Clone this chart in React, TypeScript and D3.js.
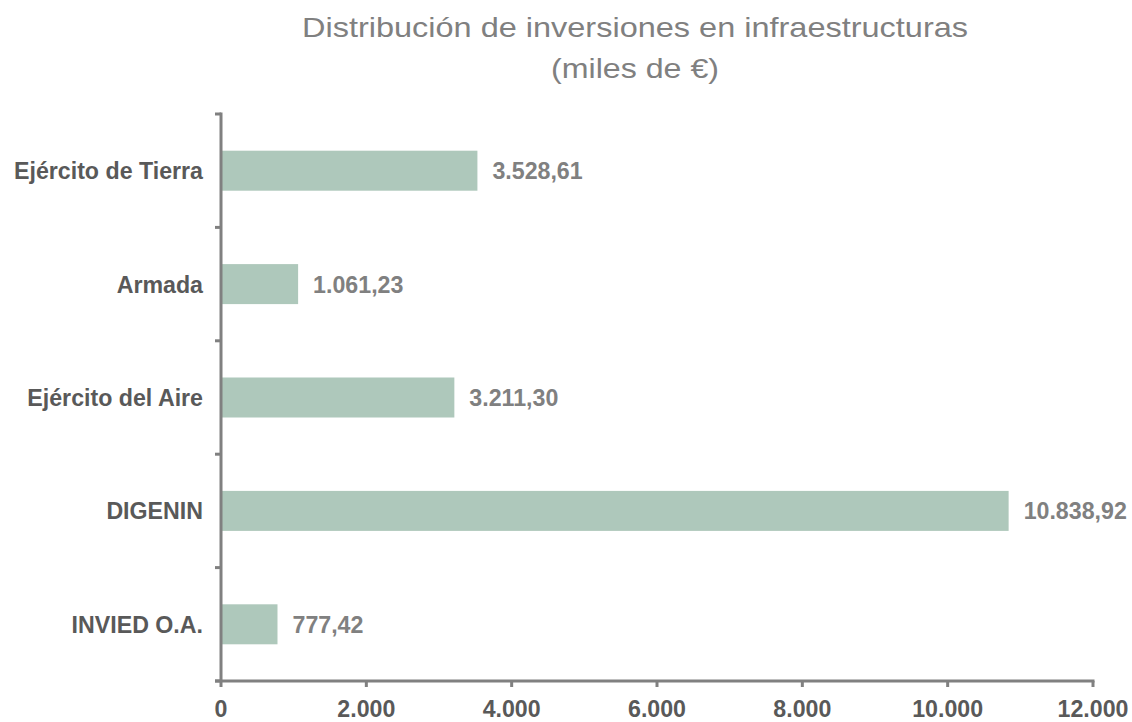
import React from "react";
import * as d3 from "d3";

const categories = ["Ejército de Tierra", "Armada", "Ejército del Aire", "DIGENIN", "INVIED O.A."];
const values = [3528.61, 1061.23, 3211.3, 10838.92, 777.42];
const valueLabels = ["3.528,61", "1.061,23", "3.211,30", "10.838,92", "777,42"];
const xTicks = [0, 2000, 4000, 6000, 8000, 10000, 12000];
const xTickLabels = ["0", "2.000", "4.000", "6.000", "8.000", "10.000", "12.000"];
const titleLines = ["Distribución de inversiones en infraestructuras", "(miles de €)"];
const titleWidths = [666, 168];

const W = 1132;
const H = 722;
const left = 221;
const right = 1093;
const top = 114;
const bottom = 681;

export default function App() {
  const x = d3.scaleLinear().domain([0, 12000]).range([left, right]);
  const y = d3.scaleBand<string>().domain(categories).range([top, bottom]).paddingInner(0).paddingOuter(0);
  const band = y.bandwidth();
  const barH = 40;
  const axisColor = "#808080";
  const font = "'Liberation Sans', Arial, sans-serif";
  const boundaries = d3.range(categories.length + 1).map((i) => top + i * band);
  const fs = 23.2;

  return (
    <svg width={W} height={H} style={{ position: "absolute", left: 0, top: 0, background: "#fff" }} fontFamily={font}>
      <rect x={0} y={0} width={W} height={H} fill="#fff" />
      {titleLines.map((t, i) => (
        <text
          key={t}
          x={635 - titleWidths[i] / 2}
          y={37 + i * 41}
          fontSize={28}
          fill="#808080"
          textLength={titleWidths[i]}
          lengthAdjust="spacingAndGlyphs"
        >
          {t}
        </text>
      ))}
      {categories.map((c, i) => (
        <g key={c}>
          <rect x={x(0)} y={(y(c) as number) + band / 2 - barH / 2} width={x(values[i]) - x(0)} height={barH} fill="#aec8bb" />
          <text x={x(values[i]) + 15} y={(y(c) as number) + band / 2 + 8.5} fontSize={fs} fontWeight="bold" fill="#808080">
            {valueLabels[i]}
          </text>
          <text x={203} y={(y(c) as number) + band / 2 + 8.5} fontSize={fs} fontWeight="bold" fill="#595959" textAnchor="end">
            {c}
          </text>
        </g>
      ))}
      {boundaries.map((b, i) => (
        <line key={"yt" + i} x1={left - 6} x2={left} y1={b} y2={b} stroke={axisColor} strokeWidth={3} />
      ))}
      <line x1={left} x2={left} y1={top - 1.5} y2={bottom} stroke={axisColor} strokeWidth={3} />
      <line x1={left - 6} x2={right + 1.5} y1={bottom} y2={bottom} stroke={axisColor} strokeWidth={3} />
      {xTicks.map((t, i) => (
        <g key={"xt" + t}>
          <line x1={x(t)} x2={x(t)} y1={bottom} y2={bottom + 6} stroke={axisColor} strokeWidth={3} />
          <text x={x(t)} y={717} textAnchor="middle" fontSize={fs} fontWeight="bold" fill="#595959">
            {xTickLabels[i]}
          </text>
        </g>
      ))}
    </svg>
  );
}
